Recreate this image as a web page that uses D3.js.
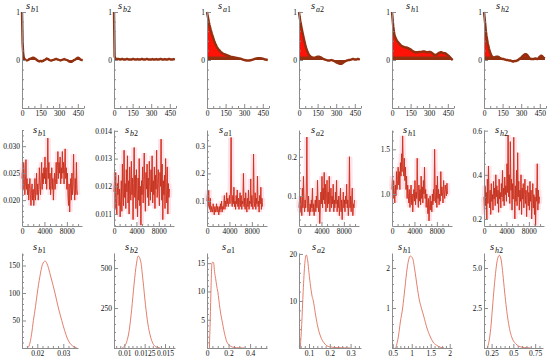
<!DOCTYPE html>
<html>
<head>
<meta charset="utf-8">
<script src="https://cdn.jsdelivr.net/npm/d3@7"></script>
<style>
  body { margin: 0; background: #fff; }
  svg { display: block; font-family: 'Liberation Serif', 'DejaVu Serif', serif; }
</style>
</head>
<body>
<div id="chart"></div>
<script>
// parameter names, shown as s with a subscript
const names = [['b', '1'], ['b', '2'], ['a', '1'], ['a', '2'], ['h', '1'], ['h', '2']]

// ---- row 1: autocorrelation by lag ----
const lags = [0, 5, 10, 15, 20, 30, 40, 50, 60, 70, 80, 90, 100, 110, 120, 130, 140, 150, 160, 170,
  180, 190, 200, 210, 220, 230, 240, 250, 260, 270, 280, 290, 300, 310, 320, 330, 340, 350, 360,
  370, 380, 390, 400, 410, 420, 430, 440, 450, 460, 470, 480, 490]
const acfB1 = [1, 0.35, 0.12, 0.05, 0.02,
  0.0, -0.01, 0.0, 0.02, 0.03, 0.04, 0.05, 0.04, 0.02, 0.0,
  -0.02, -0.03, -0.02, -0.03, -0.02, 0.0, 0.01, 0.03, 0.02, 0.0,
  -0.01, -0.01, 0.0, 0.01, 0.02, 0.02, 0.01, 0.0, -0.01, 0.0,
  0.01, 0.02, 0.01, 0.0, -0.01, -0.03, -0.04, -0.04, -0.02, 0.0,
  0.01, 0.03, 0.05, 0.04, 0.01, 0.0, 0.0]
const acfB2 = [1, 0.08, 0.03, 0.02, 0.02,
  0.02, 0.02, 0.01, 0.02, 0.02, 0.01, 0.01, 0.02, 0.02, 0.01,
  0.01, 0.01, 0.02, 0.02, 0.01, 0.01, 0.02, 0.01, 0.01, 0.02,
  0.02, 0.01, 0.01, 0.02, 0.02, 0.01, 0.01, 0.01, 0.02, 0.01,
  0.01, 0.02, 0.01, 0.01, 0.02, 0.02, 0.01, 0.01, 0.02, 0.01,
  0.01, 0.02, 0.02, 0.01, 0.01, 0.02, 0.01]
const acfA1 = [1, 0.93, 0.86, 0.79, 0.73,
  0.63, 0.54, 0.46, 0.38, 0.32, 0.27, 0.23, 0.2, 0.17, 0.15,
  0.13, 0.12, 0.11, 0.1, 0.09, 0.08, 0.07, 0.065, 0.06, 0.055,
  0.05, 0.045, 0.04, 0.035, 0.03, 0.02, 0.01, 0.0, -0.005, -0.01,
  -0.01, -0.01, -0.005, 0.0, 0.01, 0.02, 0.03, 0.035, 0.04, 0.04,
  0.04, 0.035, 0.03, 0.02, 0.01, 0.005, 0.0]
const acfA2 = [1, 0.9, 0.82, 0.75, 0.68,
  0.55, 0.43, 0.32, 0.23, 0.16, 0.11, 0.08, 0.06, 0.05, 0.05,
  0.05, 0.06, 0.07, 0.07, 0.06, 0.05, 0.03, 0.02, 0.01, 0.0,
  -0.01, -0.01, -0.01, 0.0, -0.01, -0.02, -0.03, -0.05, -0.06, -0.07,
  -0.08, -0.08, -0.07, -0.05, -0.03, -0.02, -0.01, 0.0, 0.0, 0.01,
  0.02, 0.02, 0.01, 0.01, 0.02, 0.02, 0.01]
const acfH1 = [1, 0.85, 0.7, 0.6, 0.52,
  0.45, 0.4, 0.37, 0.34, 0.31, 0.29, 0.28, 0.27, 0.26, 0.26,
  0.25, 0.23, 0.22, 0.2, 0.18, 0.17, 0.16, 0.16, 0.16, 0.17,
  0.17, 0.17, 0.18, 0.18, 0.17, 0.16, 0.16, 0.17, 0.17, 0.15,
  0.13, 0.11, 0.1, 0.11, 0.13, 0.15, 0.16, 0.16, 0.15, 0.14,
  0.14, 0.12, 0.1, 0.08, 0.05, 0.02, 0.0]
const acfH2 = [1, 0.88, 0.74, 0.6, 0.5,
  0.35, 0.24, 0.15, 0.09, 0.06, 0.05, 0.06, 0.07, 0.07, 0.06,
  0.04, 0.03, 0.02, 0.02, 0.01, 0.0, 0.0, -0.01, -0.01, -0.02,
  -0.03, -0.03, -0.02, -0.02, -0.01, 0.01, 0.03, 0.05, 0.08, 0.1,
  0.12, 0.12, 0.1, 0.06, 0.03, 0.02, 0.02, 0.02, 0.03, 0.03,
  0.02, 0.04, 0.07, 0.09, 0.08, 0.05, 0.03]
const acfXTicks = [0, 150, 300, 450]

// ---- row 2: sampled chains, one value per 100 iterations ----
const traceStep = 100
const traceB1 = [
  0.024, 0.026, 0.022, 0.027, 0.025, 0.021, 0.023, 0.0275, 0.022, 0.024,
  0.021, 0.023, 0.020, 0.022, 0.024, 0.021, 0.019, 0.022, 0.023, 0.020,
  0.022, 0.019, 0.021, 0.024, 0.020, 0.022, 0.025, 0.021, 0.023, 0.020,
  0.022, 0.026, 0.023, 0.021, 0.024, 0.027, 0.022, 0.025, 0.023, 0.026,
  0.024, 0.028, 0.023, 0.026, 0.022, 0.025, 0.0315, 0.024, 0.027, 0.022,
  0.025, 0.021, 0.023, 0.026, 0.022, 0.024, 0.020, 0.023, 0.025, 0.022,
  0.024, 0.027, 0.023, 0.026, 0.029, 0.024, 0.027, 0.025, 0.028, 0.023,
  0.026, 0.024, 0.029, 0.025, 0.027, 0.023, 0.026, 0.0295, 0.024, 0.026,
  0.022, 0.025, 0.021, 0.019, 0.023, 0.0178, 0.022, 0.024, 0.020, 0.025,
  0.021, 0.023, 0.0285, 0.022, 0.020, 0.024, 0.021, 0.027, 0.022, 0.021]
const traceB2 = [
  0.0118, 0.0122, 0.0112, 0.0125, 0.0116, 0.0110, 0.0121, 0.0117, 0.0124, 0.0113,
  0.0119, 0.0109, 0.0115, 0.0122, 0.0111, 0.0128, 0.0118, 0.0113, 0.0133, 0.0116,
  0.0121, 0.0112, 0.0126, 0.0118, 0.0131, 0.0114, 0.0122, 0.0110, 0.0127, 0.0119,
  0.0115, 0.0129, 0.0117, 0.0123, 0.0108, 0.0121, 0.0134, 0.0116, 0.0124, 0.0112,
  0.0126, 0.0118, 0.0109, 0.0123, 0.0115, 0.0130, 0.0113, 0.0120, 0.0106, 0.0122,
  0.0117, 0.0127, 0.0114, 0.0121, 0.0132, 0.0118, 0.0111, 0.0125, 0.0119, 0.0128,
  0.0116, 0.0123, 0.0113, 0.0129, 0.0120, 0.0115, 0.0126, 0.0118, 0.0131, 0.0114,
  0.0122, 0.0117, 0.0127, 0.0112, 0.0124, 0.0119, 0.0133, 0.0116, 0.0121, 0.0126,
  0.0118, 0.0113, 0.0125, 0.0120, 0.0137, 0.0115, 0.0128, 0.0108, 0.0122, 0.0117,
  0.0124, 0.0112, 0.0130, 0.0119, 0.0114, 0.0127, 0.0110, 0.0121, 0.0116, 0.0119]
const traceA1 = [
  0.10, 0.13, 0.08, 0.14, 0.09, 0.07, 0.11, 0.06, 0.08, 0.07,
  0.06, 0.09, 0.07, 0.05, 0.08, 0.06, 0.07, 0.09, 0.06, 0.08,
  0.07, 0.05, 0.08, 0.06, 0.09, 0.07, 0.10, 0.06, 0.08, 0.07,
  0.09, 0.12, 0.07, 0.10, 0.08, 0.13, 0.09, 0.11, 0.08, 0.10,
  0.12, 0.09, 0.14, 0.33, 0.10, 0.08, 0.12, 0.09, 0.15, 0.08,
  0.10, 0.07, 0.12, 0.09, 0.14, 0.08, 0.11, 0.07, 0.10, 0.13,
  0.08, 0.12, 0.07, 0.10, 0.09, 0.20, 0.08, 0.11, 0.07, 0.13,
  0.09, 0.06, 0.11, 0.08, 0.14, 0.07, 0.10, 0.09, 0.18, 0.08,
  0.12, 0.09, 0.07, 0.27, 0.10, 0.08, 0.13, 0.07, 0.11, 0.09,
  0.19, 0.08, 0.10, 0.06, 0.12, 0.09, 0.15, 0.07, 0.11, 0.08]
const traceA2 = [
  0.07, 0.09, 0.06, 0.10, 0.08, 0.05, 0.12, 0.07, 0.15, 0.08,
  0.06, 0.09, 0.07, 0.11, 0.25, 0.08, 0.06, 0.10, 0.07, 0.05,
  0.08, 0.06, 0.09, 0.07, 0.12, 0.06, 0.08, 0.05, 0.07, 0.09,
  0.06, 0.10, 0.07, 0.14, 0.08, 0.06, 0.09, 0.03, 0.07, 0.11,
  0.08, 0.15, 0.07, 0.12, 0.09, 0.16, 0.08, 0.13, 0.06, 0.10,
  0.14, 0.07, 0.11, 0.08, 0.15, 0.06, 0.09, 0.12, 0.07, 0.10,
  0.08, 0.13, 0.06, 0.09, 0.07, 0.11, 0.08, 0.14, 0.06, 0.09,
  0.07, 0.10, 0.05, 0.08, 0.12, 0.06, 0.09, 0.04, 0.08, 0.11,
  0.07, 0.09, 0.06, 0.10, 0.08, 0.13, 0.07, 0.09, 0.05, 0.08,
  0.20, 0.07, 0.10, 0.06, 0.09, 0.12, 0.05, 0.08, 0.07, 0.09]
const traceH1 = [
  1.05, 1.20, 0.95, 1.15, 1.00, 0.90, 1.10, 0.98, 1.25, 1.05,
  1.15, 1.30, 1.10, 1.25, 1.05, 1.35, 1.20, 1.45, 1.25, 1.65,
  1.30, 1.20, 1.40, 1.15, 1.30, 1.05, 1.20, 0.95, 1.10, 1.00,
  0.90, 1.05, 0.85, 0.98, 1.10, 0.88, 1.00, 0.80, 0.95, 1.05,
  0.92, 1.15, 0.88, 1.02, 0.95, 1.40, 1.00, 0.85, 1.10, 0.92,
  1.05, 0.88, 1.20, 0.95, 1.08, 0.90, 1.15, 1.00, 1.30, 0.95,
  1.05, 0.85, 1.00, 0.90, 0.78, 0.95, 0.70, 0.88, 0.98, 0.82,
  0.92, 0.80, 1.00, 0.88, 1.05, 0.92, 1.50, 1.00, 0.90, 1.10,
  0.85, 1.20, 0.95, 1.05, 0.88, 1.00, 0.92, 1.25, 0.98, 1.08,
  1.00, 0.90, 1.15, 1.02, 0.95, 1.10, 1.05, 0.98, 1.12, 1.00]
const traceH2 = [
  0.30, 0.22, 0.35, 0.26, 0.32, 0.20, 0.38, 0.27, 0.44, 0.30,
  0.25, 0.33, 0.22, 0.36, 0.28, 0.31, 0.24, 0.37, 0.29, 0.34,
  0.26, 0.40, 0.30, 0.35, 0.27, 0.33, 0.23, 0.38, 0.29, 0.32,
  0.25, 0.36, 0.30, 0.42, 0.28, 0.34, 0.26, 0.39, 0.31, 0.35,
  0.28, 0.45, 0.32, 0.58, 0.30, 0.40, 0.27, 0.55, 0.33, 0.38,
  0.24, 0.36, 0.29, 0.57, 0.31, 0.20, 0.35, 0.28, 0.42, 0.26,
  0.50, 0.30, 0.37, 0.24, 0.33, 0.28, 0.40, 0.22, 0.34, 0.29,
  0.36, 0.25, 0.31, 0.38, 0.27, 0.33, 0.21, 0.30, 0.35, 0.26,
  0.32, 0.24, 0.37, 0.28, 0.33, 0.20, 0.29, 0.36, 0.25, 0.31,
  0.22, 0.30, 0.17, 0.34, 0.28, 0.45, 0.24, 0.33, 0.27, 0.30]
const traceXTicks = [0, 4000, 8000]
const traceYTicks = [[0.020, 0.025, 0.030], [0.011, 0.012, 0.013, 0.014], [0.1, 0.2, 0.3],
  [0.1, 0.2], [1.0, 1.5], [0.2, 0.4, 0.6]]
const traceYLabels = [['0.020', '0.025', '0.030'], ['0.011', '0.012', '0.013', '0.014'],
  ['0.1', '0.2', '0.3'], ['0.1', '0.2'], ['1.0', '1.5'], ['0.2', '0.4', '0.6']]
const traceYMinor = [0.001, 0.0002, 0.02, 0.02, 0.1, 0.05]
const traceYDomain = [[0.0152, 0.033], [0.01057, 0.01403], [0.0097, 0.357], [0.0237, 0.268],
  [0.642, 1.716], [0.168, 0.603]]

// ---- row 3: posterior densities ----
const densB1X = [0.0162, 0.017, 0.0178, 0.0185, 0.0193, 0.02, 0.021, 0.022, 0.023, 0.024, 0.025,
  0.026, 0.0268, 0.028, 0.0294, 0.0305, 0.0315, 0.0325, 0.0335, 0.0345, 0.0352]
const densB1Y = [0, 6, 25, 50, 75, 100, 130, 152, 158, 150, 133, 115, 100, 75, 50, 32, 18, 9, 4, 1.5, 0]
const densB2X = [0.0097, 0.01, 0.0103, 0.0106, 0.0109, 0.0112, 0.0115, 0.0117, 0.012, 0.0123,
  0.0126, 0.0129, 0.0132, 0.0135, 0.0138, 0.0141, 0.0144]
const densB2Y = [0, 10, 40, 110, 240, 400, 530, 575, 545, 420, 270, 150, 75, 30, 10, 3, 0]
const densA1X = [0.022, 0.03, 0.038, 0.046, 0.055, 0.062, 0.07, 0.08, 0.09, 0.1, 0.11, 0.12, 0.13,
  0.14, 0.15, 0.16, 0.17, 0.18, 0.2, 0.22, 0.25, 0.3, 0.35]
const densA1Y = [0, 5, 11, 15, 15.2, 15, 13.5, 12.3, 11, 10, 8.5, 7, 5.8, 4.8, 3.8, 2.8, 2, 1.3,
  0.6, 0.3, 0.1, 0.03, 0]
const densA2X = [0.058, 0.065, 0.072, 0.08, 0.087, 0.094, 0.1, 0.108, 0.115, 0.121, 0.13, 0.14,
  0.15, 0.16, 0.17, 0.185, 0.2, 0.23, 0.27, 0.3]
const densA2Y = [0, 5, 12, 18, 19.8, 18.5, 16, 13, 11, 10, 7.5, 5, 3.2, 2, 1.2, 0.5, 0.25, 0.1, 0.03, 0]
const densH1X = [0.58, 0.65, 0.7, 0.76, 0.82, 0.88, 0.96, 1.02, 1.08, 1.14, 1.2, 1.26, 1.32, 1.4,
  1.48, 1.56, 1.65, 1.75, 1.85]
const densH1Y = [0, 0.3, 0.65, 1.0, 1.5, 2.0, 2.3, 2.25, 1.95, 1.55, 1.2, 0.98, 0.78, 0.5, 0.3,
  0.15, 0.07, 0.02, 0]
const densH2X = [0.2, 0.22, 0.24, 0.26, 0.28, 0.3, 0.32, 0.34, 0.36, 0.38, 0.4, 0.42, 0.44, 0.46,
  0.48, 0.5, 0.53, 0.56, 0.6, 0.65, 0.7]
const densH2Y = [0, 0.4, 1.2, 2.5, 3.8, 4.9, 5.6, 5.8, 5.5, 4.6, 3.5, 2.5, 1.7, 1.1, 0.7, 0.45,
  0.25, 0.12, 0.05, 0.02, 0]
const densXDomain = [[0.01412, 0.03565], [0.00873, 0.01623], [0, 0.557], [0.052, 0.35],
  [0.48, 2.06], [0.163, 0.84]]
const densXTicks = [[0.02, 0.03], [0.01, 0.0125, 0.015], [0, 0.2, 0.4], [0.1, 0.2, 0.3],
  [0.5, 1, 1.5, 2], [0.25, 0.5, 0.75]]
const densXLabels = [['0.02', '0.03'], ['0.01', '0.0125', '0.015'], ['0', '0.2', '0.4'],
  ['0.1', '0.2', '0.3'], ['0.5', '1', '1.5', '2'], ['0.25', '0.5', '0.75']]
const densXMinor = [0.002, 0.0005, 0.05, 0.02, 0.1, 0.05]
const densYMax = [172.7, 594, 16.8, 20.2, 2.375, 5.94]
const densYTicks = [[50, 100, 150], [250, 500], [5, 10, 15], [10, 20], [1, 2], [2.5, 5.0]]
const densYLabels = [['50', '100', '150'], ['250', '500'], ['5', '10', '15'], ['10', '20'],
  ['1', '2'], ['2.5', '5.0']]
const densYMinor = [10, 50, 1, 2, 0.2, 0.5]

// ---- layout ----
const width = 550
const height = 361
const cols = [22, 114, 207, 299, 392, 484]
const titleDx = [[4, 4, 11, 12, 14, 12], [11, 11, 12, 12, 11, 11], [11, 11, 15, 13, 6, 6]]
const axisColor = '#8c8c8c'
const acfDark = '#93300f'
// dark points pile up along the zero line up to about this height
const acfBand = 0.075

const svg = d3.select('#chart')
  .append('svg')
  .attr('width', width)
  .attr('height', height)

function minorValues(domain, step, majors) {
  const lo = Math.ceil(domain[0] / step - 1e-6)
  const hi = Math.floor(domain[1] / step + 1e-6)
  return d3.range(lo, hi + 1)
    .map(k => +(k * step).toFixed(8))
    .filter(v => !majors.some(m => Math.abs(m - v) < step / 10))
}

function styleAxis(g) {
  g.attr('font-family', null).attr('font-size', 7.5)
  g.selectAll('.domain, .tick line').attr('stroke', axisColor)
  g.selectAll('.tick text').attr('fill', '#111')
}

function drawAxes(g, x, y, p) {
  const x0 = x.range()[0]
  const yb = y.range()[0]

  g.append('g')
    .attr('transform', `translate(${x0},0)`)
    .call(d3.axisLeft(y).tickValues(p.yTicks).tickSize(-4).tickSizeOuter(0).tickPadding(2)
      .tickFormat((d, i) => p.yLabels[i]))
    .call(styleAxis)
  g.append('g')
    .attr('transform', `translate(${x0},0)`)
    .call(d3.axisLeft(y).tickValues(minorValues(y.domain(), p.yMinor, p.yTicks)).tickSize(-2)
      .tickFormat(''))
    .call(s => s.select('.domain').remove())
    .call(styleAxis)

  g.append('g')
    .attr('transform', `translate(0,${yb})`)
    .call(d3.axisBottom(x).tickValues(p.xTicks).tickSize(-4).tickSizeOuter(0).tickPadding(3)
      .tickFormat((d, i) => p.xLabels[i]))
    .call(styleAxis)
  g.append('g')
    .attr('transform', `translate(0,${yb})`)
    .call(d3.axisBottom(x).tickValues(minorValues(x.domain(), p.xMinor, p.xTicks)).tickSize(-2)
      .tickFormat(''))
    .call(s => s.select('.domain').remove())
    .call(styleAxis)
}

function drawTitle(g, i, x, y) {
  const t = g.append('text').attr('x', x).attr('y', y).attr('fill', '#111')
  t.append('tspan').attr('font-style', 'italic').attr('font-size', 10.5).text('s')
  t.append('tspan').attr('font-style', 'italic').attr('font-size', 8).attr('dy', 3)
    .attr('dx', 1).text(names[i][0])
  t.append('tspan').attr('font-size', 8).text(names[i][1])
}

// row 1
const acfSeries = [acfB1, acfB2, acfA1, acfA2, acfH1, acfH2]
acfSeries.forEach((vals, i) => {
  const g = svg.append('g')
  const x = d3.scaleLinear().domain([0, 500]).range([cols[i], cols[i] + 62])
  const y = d3.scaleLinear().domain([-1, 1]).range([108, 12])

  const area = d3.area()
    .x((d, k) => x(lags[k]))
    .y0(y(0))
    .y1(d => y(d))
  const band = d3.area()
    .x((d, k) => x(lags[k]))
    .y0(y(0))
    .y1(d => y(Math.min(d, acfBand)))
  const line = d3.line()
    .x((d, k) => x(lags[k]))
    .y(d => y(d))

  g.append('path').attr('d', area(vals)).attr('fill', '#ff1208')
  g.append('path').attr('d', band(vals)).attr('fill', acfDark)
  g.append('path').attr('d', line(vals)).attr('fill', 'none')
    .attr('stroke', acfDark).attr('stroke-width', 2.4).attr('stroke-linejoin', 'round')

  drawAxes(g, x, y, {
    yTicks: [0, 1], yLabels: ['0', '1'], yMinor: 0.2,
    xTicks: acfXTicks, xLabels: acfXTicks.map(String), xMinor: 50
  })
  drawTitle(g, i, cols[i] + titleDx[0][i], 9)
})

// row 2
const traceSeries = [traceB1, traceB2, traceA1, traceA2, traceH1, traceH2]
traceSeries.forEach((vals, i) => {
  const g = svg.append('g')
  const x = d3.scaleLinear().domain([0, 10700]).range([cols[i], cols[i] + 60])
  const y = d3.scaleLinear().domain(traceYDomain[i]).range([226, 130])

  const line = d3.line()
    .x((d, k) => x(k * traceStep))
    .y(d => y(d))

  g.append('path').attr('d', line(vals)).attr('fill', 'none')
    .attr('stroke', '#ffd0da').attr('stroke-width', 6).attr('opacity', 0.55)
  g.append('path').attr('d', line(vals)).attr('fill', 'none')
    .attr('stroke', '#ff3a30').attr('stroke-width', 0.9)
  g.append('path').attr('d', line(vals)).attr('fill', 'none')
    .attr('stroke', '#9a3418').attr('stroke-width', 0.5).attr('opacity', 0.75)

  drawAxes(g, x, y, {
    yTicks: traceYTicks[i], yLabels: traceYLabels[i], yMinor: traceYMinor[i],
    xTicks: traceXTicks, xLabels: traceXTicks.map(String), xMinor: 1000
  })
  drawTitle(g, i, cols[i] + titleDx[1][i], 133)
})

// row 3
const densX = [densB1X, densB2X, densA1X, densA2X, densH1X, densH2X]
const densY = [densB1Y, densB2Y, densA1Y, densA2Y, densH1Y, densH2Y]
const densWidth = [56, 61, 60, 62, 60, 59]
densX.forEach((xs, i) => {
  const g = svg.append('g')
  const x = d3.scaleLinear().domain(densXDomain[i]).range([cols[i], cols[i] + densWidth[i]])
  const y = d3.scaleLinear().domain([0, densYMax[i]]).range([348, 253])

  const line = d3.line()
    .x((d, k) => x(xs[k]))
    .y(d => y(d))
    .curve(d3.curveMonotoneX)

  g.append('path').attr('d', line(densY[i])).attr('fill', 'none')
    .attr('stroke', '#e0705c').attr('stroke-width', 0.9)

  drawAxes(g, x, y, {
    yTicks: densYTicks[i], yLabels: densYLabels[i], yMinor: densYMinor[i],
    xTicks: densXTicks[i], xLabels: densXLabels[i], xMinor: densXMinor[i]
  })
  drawTitle(g, i, cols[i] + titleDx[2][i], 250)
})
</script>
</body>
</html>
